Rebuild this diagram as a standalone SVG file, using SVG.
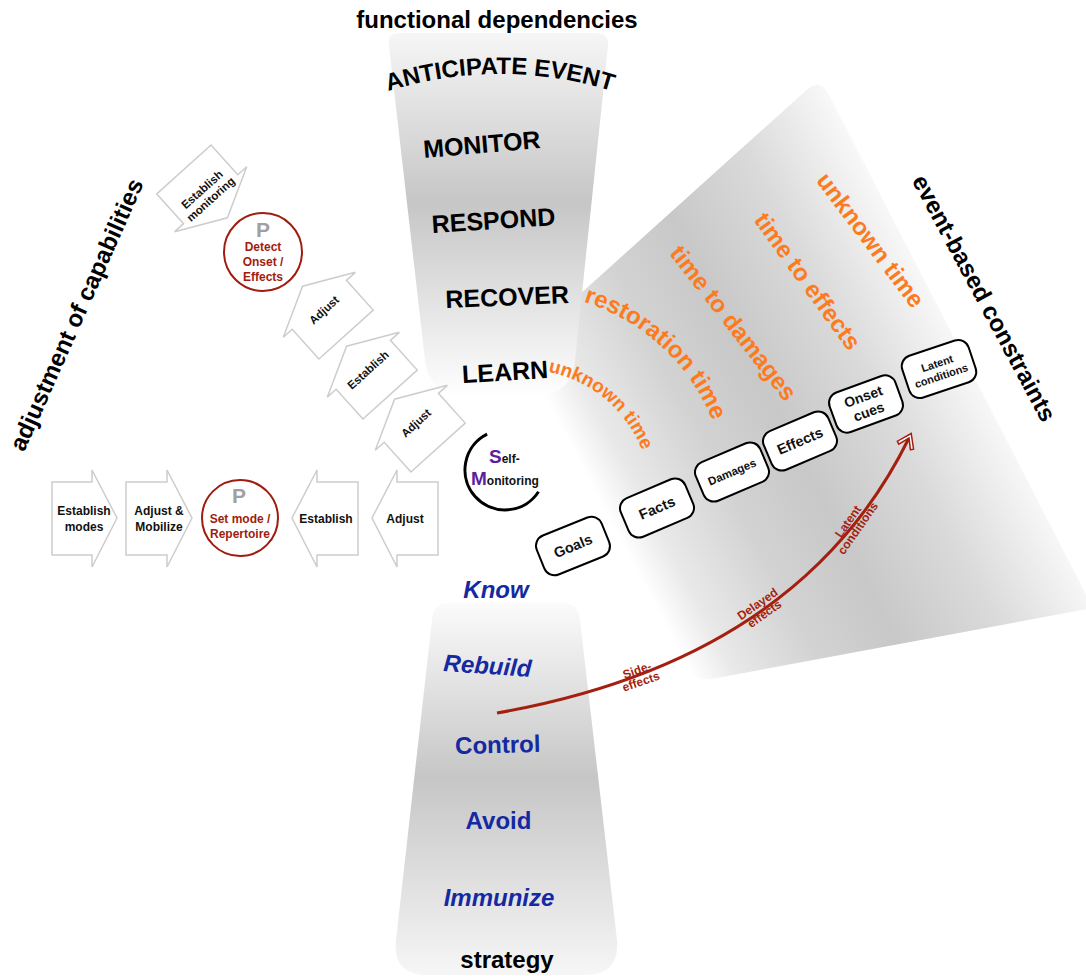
<svg xmlns="http://www.w3.org/2000/svg" xmlns:xlink="http://www.w3.org/1999/xlink" width="1086" height="976" viewBox="0 0 1086 976">
<style>
text{font-family:"Liberation Sans",Arial,Helvetica,sans-serif;font-weight:bold}
.title{font-size:24px;fill:#000}
.cap{font-size:25px;fill:#000}
.org{fill:#fd7b1f}
.blu{font-size:24px;fill:#1429a2}
.box{fill:#fff;stroke:#000;stroke-width:2}
.chev{fill:#fff;stroke:#cdcdcd;stroke-width:1.5}
.ct{font-size:12px;fill:#111;text-anchor:middle}
.dt{font-size:11.5px;fill:#111;text-anchor:middle}
.pc{fill:#fff;stroke:#a01c0e;stroke-width:2}
.pr{font-size:12px;fill:#a01c0e;text-anchor:middle}
.pp{font-size:21px;fill:#a0a0a0;text-anchor:middle}
.bt{fill:#111;text-anchor:middle}
.rl{font-size:12px;fill:#a41f10;text-anchor:middle}
</style>
<defs>
<linearGradient id="gTop" gradientUnits="userSpaceOnUse" x1="0" y1="33" x2="0" y2="395">
<stop offset="0" stop-color="#f6f6f6"/><stop offset="0.47" stop-color="#c6c6c6"/><stop offset="1" stop-color="#fefefe"/>
</linearGradient>
<linearGradient id="gBot" gradientUnits="userSpaceOnUse" x1="0" y1="603" x2="0" y2="975">
<stop offset="0" stop-color="#fbfbfb"/><stop offset="0.47" stop-color="#c6c6c6"/><stop offset="1" stop-color="#f6f6f6"/>
</linearGradient>
<linearGradient id="gFan" gradientUnits="userSpaceOnUse" x1="607" y1="515" x2="954" y2="332">
<stop offset="0" stop-color="#ffffff"/><stop offset="0.1" stop-color="#e9e9e9"/><stop offset="0.3" stop-color="#d3d3d3"/><stop offset="0.5" stop-color="#c8c8c8"/><stop offset="0.75" stop-color="#dadada"/><stop offset="1" stop-color="#f8f8f8"/>
</linearGradient>
<path id="uparrow" d="M-36.5,33 L-36.5,-7 L-48.5,-7 L0,-32 L48.5,-7 L36.5,-7 L36.5,33 Z"/>
<path id="arcAnt" d="M371.7,96.6 A375,375 0 0 1 628.3,96.6"/>
<path id="arcRest" d="M583.4,301.9 A203,203 0 0 1 727,496"/>
<path id="arcUnk" d="M548.1,371.8 A126.5,126.5 0 0 1 650.5,496"/>
<marker id="openHead" markerUnits="userSpaceOnUse" viewBox="-17 -11 19 22" refX="-5" refY="0" markerWidth="19" markerHeight="22" orient="auto">
<path d="M0,0 L-13,-9 L-15,-6.5 L-5,0 L-15,6.5 L-13,9 Z" fill="#fff" stroke="#a41f10" stroke-width="1.5" stroke-linejoin="miter"/>
</marker>
</defs>

<g id="fan">
<path d="M519,349 L806.6,90 Q820,78 828.5,93.9 L1093,608 L712.7,678.7 Q695,682 686.6,666.1 Z" fill="url(#gFan)"/>
</g>
<g id="top-funnel">
<path d="M400,33 L596,33 Q609,33 608,46 L575,360 Q572,395 538,395 L462,395 Q429,395 425,360 L389,46 Q387,33 400,33 Z" fill="url(#gTop)"/>
</g>
<g id="bottom-funnel">
<path d="M447,603 L564,603 Q578,603 580,620 L617,940 Q620,975 585,975 L428,975 Q392,975 396,940 L432,620 Q434,603 447,603 Z" fill="url(#gBot)"/>
</g>

<g id="titles">
<text class="title" x="497" y="28" text-anchor="middle">functional dependencies</text>
<text class="title" x="507" y="968" text-anchor="middle">strategy</text>
<text class="title" transform="translate(84,318) rotate(-66)" text-anchor="middle">adjustment of capabilities</text>
<text class="title" transform="translate(977,302) rotate(61.7)" text-anchor="middle">event-based constraints</text>
</g>

<g id="functions">
<text class="title"><textPath href="#arcAnt" startOffset="50%" text-anchor="middle">ANTICIPATE EVENT</textPath></text>
<text class="cap" transform="translate(482.5,153) rotate(-4.8)" text-anchor="middle">MONITOR</text>
<text class="cap" transform="translate(494,229) rotate(-3.7)" text-anchor="middle">RESPOND</text>
<text class="cap" transform="translate(507.5,305.5) rotate(-2.4)" text-anchor="middle">RECOVER</text>
<text class="cap" transform="translate(505.5,380.5) rotate(-3.4)" text-anchor="middle">LEARN</text>
</g>

<g id="strategies">
<text class="blu" x="496" y="598" text-anchor="middle" font-style="italic">Know</text>
<text class="blu" transform="translate(487,674) rotate(4)" text-anchor="middle" font-style="italic">Rebuild</text>
<text class="blu" transform="translate(498,753) rotate(-1.5)" text-anchor="middle">Control</text>
<text class="blu" x="498.5" y="829" text-anchor="middle">Avoid</text>
<text class="blu" x="499" y="906" text-anchor="middle" font-style="italic">Immunize</text>
</g>

<g id="time-labels">
<text class="org" font-size="19"><textPath href="#arcUnk">unknown time</textPath></text>
<text class="org" font-size="24"><textPath href="#arcRest">restoration time</textPath></text>
<text class="org" font-size="24" transform="translate(727,328) rotate(52)" text-anchor="middle">time to damages</text>
<text class="org" font-size="24" transform="translate(801,286) rotate(54)" text-anchor="middle">time to effects</text>
<text class="org" font-size="24" transform="translate(864,245) rotate(53)" text-anchor="middle">unknown time</text>
</g>

<g id="node-goals" transform="translate(573,546) rotate(-22)">
<rect class="box" x="-35" y="-21" width="70" height="42" rx="11"/>
<text class="bt" font-size="14.5" y="5">Goals</text>
</g>
<g id="node-facts" transform="translate(657,508) rotate(-23)">
<rect class="box" x="-35" y="-21" width="70" height="42" rx="11"/>
<text class="bt" font-size="14.5" y="5">Facts</text>
</g>
<g id="node-damages" transform="translate(732,472) rotate(-23)">
<rect class="box" x="-35" y="-21" width="70" height="42" rx="11"/>
<text class="bt" font-size="11.5" y="4">Damages</text>
</g>
<g id="node-effects" transform="translate(800,441) rotate(-23)">
<rect class="box" x="-35" y="-21" width="70" height="42" rx="11"/>
<text class="bt" font-size="14.5" y="5">Effects</text>
</g>
<g id="node-onset" transform="translate(866,404) rotate(-20)">
<rect class="box" x="-35" y="-21" width="70" height="42" rx="11"/>
<text class="bt" font-size="14" y="-3">Onset</text>
<text class="bt" font-size="14" y="13">cues</text>
</g>
<g id="node-latent" transform="translate(939,369) rotate(-18.5)">
<rect class="box" x="-35" y="-22" width="70" height="44" rx="11"/>
<text class="bt" font-size="11" y="-2">Latent</text>
<text class="bt" font-size="11" y="11">conditions</text>
</g>

<g id="self-monitoring">
<path d="M487.1,434.2 A40,40 0 1 0 538.5,491.8" fill="none" stroke="#000" stroke-width="3"/>
<text x="489" y="463" font-size="12" fill="#111"><tspan font-size="19" fill="#5b1f9c">S</tspan>elf-</text>
<text x="471" y="485" font-size="12" fill="#111"><tspan font-size="19" fill="#5b1f9c">M</tspan>onitoring</text>
</g>

<g id="chain-horizontal">
<g id="h-establish-modes">
<path class="chev" d="M52,482 L92,482 L92,470 L117,518 L92,567 L92,555 L52,555 Z"/>
<text class="ct" x="84" y="515">Establish</text>
<text class="ct" x="84" y="531">modes</text>
</g>
<g id="h-adjust-mobilize">
<path class="chev" d="M126,482 L167,482 L167,470 L192,518 L167,567 L167,555 L126,555 Z"/>
<text class="ct" x="159" y="515">Adjust &amp;</text>
<text class="ct" x="159" y="531">Mobilize</text>
</g>
<g id="h-set-mode">
<circle class="pc" cx="240" cy="518" r="38"/>
<text class="pp" x="239" y="503">P</text>
<text class="pr" x="240" y="523">Set mode /</text>
<text class="pr" x="240" y="538">Repertoire</text>
</g>
<g id="h-establish">
<path class="chev" d="M358,482 L317,482 L317,470 L292,518 L317,567 L317,555 L358,555 Z"/>
<text class="ct" x="326" y="523">Establish</text>
</g>
<g id="h-adjust">
<path class="chev" d="M438,482 L397,482 L397,470 L372,518 L397,567 L397,555 L438,555 Z"/>
<text class="ct" x="405" y="523">Adjust</text>
</g>
</g>

<g id="chain-diagonal">
<g id="d-establish-monitoring" transform="translate(206,194) rotate(-42)">
<use href="#uparrow" class="chev" transform="scale(1,-1)"/>
<text class="dt" y="-2">Establish</text>
<text class="dt" y="11">monitoring</text>
</g>
<g id="d-detect">
<circle class="pc" cx="263" cy="252" r="39"/>
<text class="pp" x="263" y="237">P</text>
<text class="pr" x="263" y="251">Detect</text>
<text class="pr" x="263" y="266">Onset /</text>
<text class="pr" x="263" y="281">Effects</text>
</g>
<g id="d-adjust-1" transform="translate(324,310) rotate(-42)">
<use href="#uparrow" class="chev"/>
<text class="dt" y="4">Adjust</text>
</g>
<g id="d-establish" transform="translate(368,370) rotate(-42)">
<use href="#uparrow" class="chev"/>
<text class="dt" y="4">Establish</text>
</g>
<g id="d-adjust-2" transform="translate(416,423) rotate(-42)">
<use href="#uparrow" class="chev"/>
<text class="dt" y="4">Adjust</text>
</g>
</g>

<g id="connectors">
<path d="M497,713 Q800,660 909,438" fill="none" stroke="#a41f10" stroke-width="3" marker-end="url(#openHead)"/>
<g transform="translate(639,676) rotate(-19)">
<text class="rl" y="-2">Side-</text>
<text class="rl" y="10">effects</text>
</g>
<g transform="translate(761,609) rotate(-35)">
<text class="rl" y="-2">Delayed</text>
<text class="rl" y="10">effects</text>
</g>
<g transform="translate(853,525) rotate(-55)">
<text class="rl" y="-2">Latent</text>
<text class="rl" y="10">conditions</text>
</g>
</g>
</svg>
